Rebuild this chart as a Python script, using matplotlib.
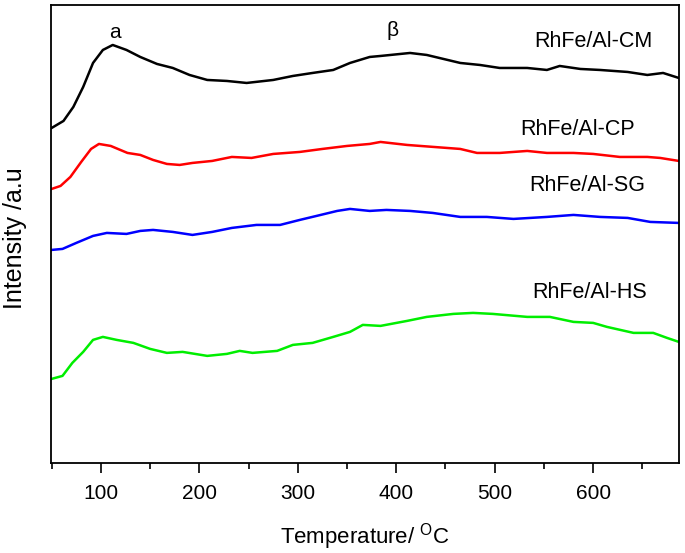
""" TPR profiles of RhFe/Al catalysts """

from matplotlib import pyplot as plt
import numpy as np

plt.rcParams["font.family"] = ["Liberation Sans", "DejaVu Sans"]

# temperature / intensity
t_cm = [50, 62, 72, 82, 92, 102, 112, 126, 140, 157, 173, 190, 208, 228, 248,
        275, 295, 315, 336, 353, 373, 384, 414, 431, 448, 465, 485, 505, 533,
        553, 566, 587, 607, 635, 655, 671, 687]
i_cm = [335, 342, 356, 376, 400, 413, 418, 413, 406, 399, 395, 388, 383, 382,
        380, 383, 387, 390, 393, 400, 406, 407, 410, 408, 404, 400, 398, 395,
        395, 393, 397, 394, 393, 391, 388, 390, 385]

t_cp = [50, 59, 69, 80, 90, 98, 110, 127, 140, 153, 167, 180, 193, 213, 233,
        253, 275, 302, 325, 350, 373, 384, 411, 438, 465, 482, 505, 533, 553,
        580, 600, 627, 655, 668, 687]
i_cp = [274, 277, 286, 301, 314, 319, 317, 310, 308, 303, 299, 298, 300, 302,
        306, 305, 309, 311, 314, 317, 319, 321, 318, 316, 314, 310, 310, 312,
        310, 310, 309, 306, 306, 305, 302]

t_sg = [50, 61, 75, 92, 106, 126, 140, 153, 173, 193, 213, 233, 258, 282, 302,
        319, 340, 353, 373, 390, 414, 437, 465, 492, 519, 553, 580, 607, 635,
        658, 687]
i_sg = [213, 214, 220, 227, 230, 229, 232, 233, 231, 228, 231, 235, 238, 238,
        243, 247, 252, 254, 252, 253, 252, 250, 246, 246, 244, 246, 248, 246,
        245, 241, 240]

t_hs = [50, 61, 71, 82, 92, 102, 116, 133, 150, 167, 183, 208, 228, 241, 254,
        279, 295, 315, 336, 353, 366, 384, 411, 431, 458, 478, 498, 533, 556,
        580, 600, 614, 641, 661, 675, 687]
i_hs = [84, 87, 100, 111, 123, 126, 123, 120, 114, 110, 111, 107, 109, 112,
        110, 112, 118, 120, 126, 131, 138, 137, 142, 146, 149, 150, 149, 146,
        146, 141, 140, 136, 130, 130, 125, 121]

fig = plt.figure(figsize=(6.85, 5.53), dpi=100)
axe = fig.add_axes([0.074, 0.163, 0.917, 0.828])

axe.plot(t_cm, i_cm, color="black", lw=1.8)
axe.plot(t_cp, i_cp, color="#ff0000", lw=1.8)
axe.plot(t_sg, i_sg, color="#0000ff", lw=1.8)
axe.plot(t_hs, i_hs, color="#00ee00", lw=1.8)

axe.text(114, 430, "a", fontsize=15, ha="center", va="center")
axe.text(396, 432, "β", fontsize=15, ha="center", va="center")
axe.text(600, 421, "RhFe/Al-CM", fontsize=15.5, ha="center", va="center")
axe.text(584, 333, "RhFe/Al-CP", fontsize=15.5, ha="center", va="center")
axe.text(594, 277, "RhFe/Al-SG", fontsize=15.5, ha="center", va="center")
axe.text(596, 170, "RhFe/Al-HS", fontsize=15.5, ha="center", va="center")

axe.set_xlim(49, 687)
axe.set_ylim(0, 458)
axe.set_xticks(np.arange(100, 700, 100))
axe.set_xticks(np.arange(50, 700, 100), minor=True)
axe.set_yticks([])
axe.tick_params(axis="x", which="major", length=7, width=1.2, labelsize=15,
                pad=8)
axe.tick_params(axis="x", which="minor", length=4, width=1.2)
for sp in axe.spines.values():
    sp.set_linewidth(1.3)

axe.set_xlabel("Temperature/ $^{\\mathregular{O}}$C", fontsize=16, labelpad=13)
axe.set_ylabel("Intensity /a.u", fontsize=18)
axe.yaxis.set_label_coords(-0.038, 0.49)

fig.savefig("out.png", dpi=100)
